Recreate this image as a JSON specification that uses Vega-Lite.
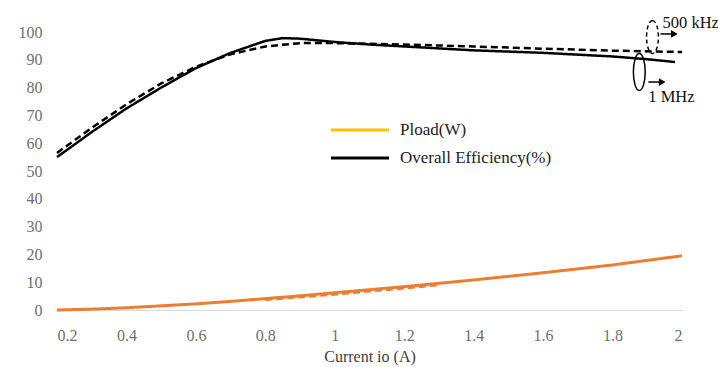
{
  "$schema": "https://vega.github.io/schema/vega-lite/v6.json",
  "width": 625,
  "height": 278,
  "autosize": {"type": "none"},
  "padding": {"left": 57, "top": 32, "right": 36, "bottom": 57},
  "background": "white",
  "config": {"view": {"stroke": null}},
  "datasets": {
    "curves": [
      {"io": 0.2, "value": 55, "qty": "eff", "freq": "1 MHz"},
      {"io": 0.3, "value": 64, "qty": "eff", "freq": "1 MHz"},
      {"io": 0.4, "value": 72.5, "qty": "eff", "freq": "1 MHz"},
      {"io": 0.5, "value": 80, "qty": "eff", "freq": "1 MHz"},
      {"io": 0.6, "value": 87, "qty": "eff", "freq": "1 MHz"},
      {"io": 0.7, "value": 92.5, "qty": "eff", "freq": "1 MHz"},
      {"io": 0.8, "value": 96.8, "qty": "eff", "freq": "1 MHz"},
      {"io": 0.85, "value": 97.8, "qty": "eff", "freq": "1 MHz"},
      {"io": 0.9, "value": 97.6, "qty": "eff", "freq": "1 MHz"},
      {"io": 1.0, "value": 96.4, "qty": "eff", "freq": "1 MHz"},
      {"io": 1.1, "value": 95.5, "qty": "eff", "freq": "1 MHz"},
      {"io": 1.2, "value": 94.8, "qty": "eff", "freq": "1 MHz"},
      {"io": 1.4, "value": 93.4, "qty": "eff", "freq": "1 MHz"},
      {"io": 1.6, "value": 92.5, "qty": "eff", "freq": "1 MHz"},
      {"io": 1.8, "value": 91.2, "qty": "eff", "freq": "1 MHz"},
      {"io": 1.9, "value": 90.2, "qty": "eff", "freq": "1 MHz"},
      {"io": 1.98, "value": 89.2, "qty": "eff", "freq": "1 MHz"},
      {"io": 0.2, "value": 56.5, "qty": "eff", "freq": "500 kHz"},
      {"io": 0.3, "value": 65.5, "qty": "eff", "freq": "500 kHz"},
      {"io": 0.4, "value": 74, "qty": "eff", "freq": "500 kHz"},
      {"io": 0.5, "value": 81.5, "qty": "eff", "freq": "500 kHz"},
      {"io": 0.6, "value": 87.5, "qty": "eff", "freq": "500 kHz"},
      {"io": 0.7, "value": 92, "qty": "eff", "freq": "500 kHz"},
      {"io": 0.8, "value": 94.8, "qty": "eff", "freq": "500 kHz"},
      {"io": 0.9, "value": 96, "qty": "eff", "freq": "500 kHz"},
      {"io": 1.0, "value": 96, "qty": "eff", "freq": "500 kHz"},
      {"io": 1.2, "value": 95.5, "qty": "eff", "freq": "500 kHz"},
      {"io": 1.4, "value": 94.8, "qty": "eff", "freq": "500 kHz"},
      {"io": 1.6, "value": 94, "qty": "eff", "freq": "500 kHz"},
      {"io": 1.8, "value": 93.3, "qty": "eff", "freq": "500 kHz"},
      {"io": 2.0, "value": 92.8, "qty": "eff", "freq": "500 kHz"},
      {"io": 0.2, "value": 0, "qty": "pload", "freq": "1 MHz"},
      {"io": 0.3, "value": 0.3, "qty": "pload", "freq": "1 MHz"},
      {"io": 0.4, "value": 0.8, "qty": "pload", "freq": "1 MHz"},
      {"io": 0.5, "value": 1.5, "qty": "pload", "freq": "1 MHz"},
      {"io": 0.6, "value": 2.2, "qty": "pload", "freq": "1 MHz"},
      {"io": 0.7, "value": 3.1, "qty": "pload", "freq": "1 MHz"},
      {"io": 0.8, "value": 4.1, "qty": "pload", "freq": "1 MHz"},
      {"io": 0.9, "value": 5.1, "qty": "pload", "freq": "1 MHz"},
      {"io": 1.0, "value": 6.2, "qty": "pload", "freq": "1 MHz"},
      {"io": 1.1, "value": 7.3, "qty": "pload", "freq": "1 MHz"},
      {"io": 1.2, "value": 8.4, "qty": "pload", "freq": "1 MHz"},
      {"io": 1.4, "value": 10.8, "qty": "pload", "freq": "1 MHz"},
      {"io": 1.6, "value": 13.4, "qty": "pload", "freq": "1 MHz"},
      {"io": 1.8, "value": 16.2, "qty": "pload", "freq": "1 MHz"},
      {"io": 2.0, "value": 19.5, "qty": "pload", "freq": "1 MHz"},
      {"io": 0.8, "value": 3.8, "qty": "pload", "freq": "500 kHz"},
      {"io": 0.9, "value": 4.7, "qty": "pload", "freq": "500 kHz"},
      {"io": 1.0, "value": 5.7, "qty": "pload", "freq": "500 kHz"},
      {"io": 1.1, "value": 6.8, "qty": "pload", "freq": "500 kHz"},
      {"io": 1.2, "value": 7.9, "qty": "pload", "freq": "500 kHz"},
      {"io": 1.3, "value": 9.1, "qty": "pload", "freq": "500 kHz"}
    ]
  },
  "encoding": {
    "x": {"field": "io", "type": "quantitative",
      "scale": {"domain": [0.2, 2], "nice": false, "zero": false},
      "axis": {
        "values": [0.2, 0.4, 0.6, 0.8, 1, 1.2, 1.4, 1.6, 1.8, 2],
        "format": ".1~f",
        "title": "Current io (A)",
        "titleFont": "Liberation Serif", "titleFontSize": 16, "titleFontWeight": "normal",
        "titleColor": "#404040", "titlePadding": 5,
        "labelFont": "Liberation Serif", "labelFontSize": 16, "labelColor": "#6f6f6f",
        "labelPadding": 17, "labelOverlap": false,
        "ticks": false, "grid": false,
        "domainColor": "#d9d9d9", "domainWidth": 1
      }
    },
    "y": {"field": "value", "type": "quantitative",
      "scale": {"domain": [0, 100], "nice": false},
      "axis": {
        "values": [0, 10, 20, 30, 40, 50, 60, 70, 80, 90, 100],
        "title": null,
        "labelFont": "Liberation Serif", "labelFontSize": 16, "labelColor": "#6f6f6f",
        "labelPadding": 15, "labelOverlap": false,
        "ticks": false, "grid": false, "domain": false
      }
    }
  },
  "layer": [
    {
      "data": {"name": "curves"},
      "transform": [{"filter": "datum.qty === 'pload'"}],
      "mark": {"type": "line", "stroke": "#ED7D31", "strokeWidth": 3},
      "encoding": {
        "strokeDash": {"field": "freq", "type": "nominal",
          "scale": {"domain": ["1 MHz", "500 kHz"], "range": [[1, 0], [7, 4]]},
          "legend": null}
      }
    },
    {
      "data": {"name": "curves"},
      "transform": [{"filter": "datum.qty === 'eff'"}],
      "mark": {"type": "line", "stroke": "#000000", "strokeWidth": 2.5},
      "encoding": {
        "strokeDash": {"field": "freq", "type": "nominal", "legend": null}
      }
    },
    {
      "data": {"values": [{"series": "Pload(W)"}, {"series": "Overall Efficiency(%)"}]},
      "mark": {"type": "line", "strokeWidth": 3},
      "encoding": {
        "x": {"value": 0},
        "y": {"value": 0},
        "color": {"field": "series", "type": "nominal",
          "scale": {"domain": ["Pload(W)", "Overall Efficiency(%)"], "range": ["#FFC000", "#000000"]},
          "legend": {
            "title": null, "orient": "none", "legendX": 287, "legendY": 82,
            "symbolType": "M-2,0H2", "symbolSize": 841, "symbolStrokeWidth": 3,
            "labelFont": "Liberation Serif", "labelFontSize": 17, "labelColor": "#222222",
            "labelOffset": 24, "rowPadding": 4
          }
        }
      }
    },
    {
      "data": {"values": [{"io": 1.877, "value": 85.6}]},
      "mark": {"type": "point", "shape": "M0,-1 A0.32,1 0 1,1 0,1 A0.32,1 0 1,1 0,-1", "size": 1369, "stroke": "#000000", "strokeWidth": 1.5, "filled": false, "opacity": 1}
    },
    {
      "data": {"values": [{"io": 1.915, "value": 98.2}]},
      "mark": {"type": "point", "shape": "M0,-1 A0.36,1 0 1,1 0,1 A0.36,1 0 1,1 0,-1", "size": 1089, "stroke": "#000000", "strokeWidth": 1.5, "strokeDash": [4, 3], "filled": false, "opacity": 1}
    },
    {
      "data": {"values": [{"io": 1.938, "io2": 1.975, "value": 99.3}, {"io": 1.903, "io2": 1.94, "value": 82}]},
      "mark": {"type": "rule", "stroke": "#000000", "strokeWidth": 1.5},
      "encoding": {"x2": {"field": "io2"}}
    },
    {
      "data": {"values": [{"io": 1.978, "value": 99.3}, {"io": 1.943, "value": 82}]},
      "mark": {"type": "point", "shape": "triangle-right", "size": 60, "fill": "#000000", "filled": true, "opacity": 1, "strokeWidth": 0}
    },
    {
      "data": {"values": [{"io": 1.944, "value": 103.2, "label": "500 kHz"}, {"io": 1.903, "value": 76.6, "label": "1 MHz"}]},
      "mark": {"type": "text", "align": "left", "baseline": "middle", "font": "Liberation Serif", "fontSize": 16.5, "color": "#111111"},
      "encoding": {"text": {"field": "label"}}
    }
  ]
}
